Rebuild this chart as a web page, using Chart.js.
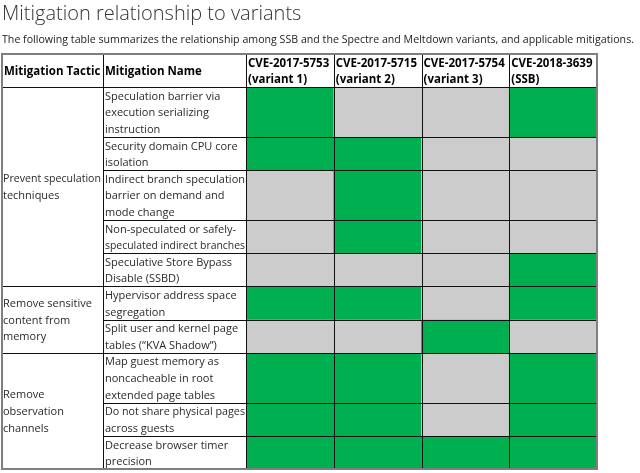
<!DOCTYPE html>
<html>
<head>
<meta charset="utf-8">
<script src="https://cdn.jsdelivr.net/npm/chart.js@4.4.1/dist/chart.umd.min.js"></script>
<style>
  html, body { margin: 0; padding: 0; background: #fff; }
  canvas { display: block; }
</style>
</head>
<body>
<canvas id="table" width="640" height="473"></canvas>
<script>
// header texts
const title = 'Mitigation relationship to variants';
const subtitle = 'The following table summarizes the relationship among SSB and the Spectre and Meltdown variants, and applicable mitigations.';
const headerTactic = 'Mitigation Tactic';
const headerName = 'Mitigation Name';
const variants = [
  ['CVE-2017-5753', '(variant 1)'],
  ['CVE-2017-5715', '(variant 2)'],
  ['CVE-2017-5754', '(variant 3)'],
  ['CVE-2018-3639', '(SSB)']
];

// merged tactic cells and how many rows each one spans
const tactics = [
  ['Prevent speculation', 'techniques'],
  ['Remove sensitive', 'content from', 'memory'],
  ['Remove', 'observation', 'channels']
];
const tacticSpan = [5, 2, 3];

// mitigation names, wrapped as in the original table
const mitigations = [
  ['Speculation barrier via', 'execution serializing', 'instruction'],
  ['Security domain CPU core', 'isolation'],
  ['Indirect branch speculation', 'barrier on demand and', 'mode change'],
  ['Non-speculated or safely-', 'speculated indirect branches'],
  ['Speculative Store Bypass', 'Disable (SSBD)'],
  ['Hypervisor address space', 'segregation'],
  ['Split user and kernel page', 'tables (\u201CKVA Shadow\u201D)'],
  ['Map guest memory as', 'noncacheable in root', 'extended page tables'],
  ['Do not share physical pages', 'across guests'],
  ['Decrease browser timer', 'precision']
];

// 1 = mitigation applies to the variant
const variant1 = [1, 1, 0, 0, 0, 1, 0, 1, 1, 1];
const variant2 = [0, 1, 1, 1, 0, 1, 0, 1, 1, 1];
const variant3 = [0, 0, 0, 0, 0, 0, 1, 0, 0, 1];
const ssb      = [1, 0, 0, 0, 1, 1, 0, 1, 1, 1];

const GREEN = '#00b050';
const GRAY = '#cccccc';
const FONT = '"Open Sans", "Noto Sans", sans-serif';

// row extents measured in text lines
const rowStart = [];
let acc = 0;
mitigations.forEach(m => { rowStart.push(acc); acc += m.length; });
const totalLines = acc;

const columns = [variant1, variant2, variant3, ssb];
const datasets = mitigations.map((m, r) => ({
  label: m.join(' '),
  data: columns.map(() => [rowStart[r], rowStart[r] + m.length]),
  backgroundColor: columns.map(col => col[r] ? GREEN : GRAY),
  borderWidth: 0,
  grouped: false,
  barPercentage: 1,
  categoryPercentage: 1
}));

// layout of the text columns
const tableLeft = 2;
const nameLeft = 103;
const headerTop = 54;

const tablePlugin = {
  id: 'tableText',
  afterDatasetsDraw(chart) {
    const ctx = chart.ctx;
    const area = chart.chartArea;
    const y = chart.scales.y;
    const lineH = Math.abs(y.getPixelForValue(1) - y.getPixelForValue(0));
    const colW = (area.right - area.left) / variants.length;
    ctx.save();

    // title + intro line
    ctx.fillStyle = '#333';
    ctx.textBaseline = 'alphabetic';
    ctx.font = '300 20px ' + FONT;
    ctx.fillText(title, 2, 20);
    ctx.font = '11px ' + FONT;
    ctx.fillStyle = '#222';
    ctx.fillText(subtitle, 2, 43, 632);

    // header row
    ctx.textBaseline = 'middle';
    ctx.fillStyle = '#000';
    ctx.font = 'bold 11.5px ' + FONT;
    const hMid = (headerTop + area.top) / 2 + 1.5;
    ctx.fillText(headerTactic, tableLeft + 2, hMid, nameLeft - tableLeft - 4);
    ctx.fillText(headerName, nameLeft + 2, hMid);
    variants.forEach((v, i) => {
      v.forEach((t, k) => {
        ctx.fillText(t, area.left + i * colW + 2, hMid + (k - (v.length - 1) / 2) * 16, colW - 3);
      });
    });

    // mitigation names
    ctx.fillStyle = '#2a2a2a';
    ctx.font = '11px ' + FONT;
    mitigations.forEach((m, r) => {
      const top = y.getPixelForValue(rowStart[r]);
      m.forEach((t, k) => {
        ctx.fillText(t, nameLeft + 2, top + 1.3 + lineH * (k + 0.5), area.left - nameLeft - 3);
      });
    });

    // tactics, centred over their rows
    let first = 0;
    tactics.forEach((tl, g) => {
      const last = first + tacticSpan[g] - 1;
      const top = y.getPixelForValue(rowStart[first]);
      const bottom = y.getPixelForValue(rowStart[last] + mitigations[last].length);
      const mid = (top + bottom) / 2 + 1;
      tl.forEach((t, k) => {
        ctx.fillText(t, tableLeft + 1, mid + (k - (tl.length - 1) / 2) * lineH, nameLeft - tableLeft - 3);
      });
      first = last + 1;
    });

    // inner grid lines
    ctx.strokeStyle = '#111';
    ctx.lineWidth = 1;
    ctx.beginPath();
    // header bottom
    ctx.moveTo(tableLeft, area.top + 0.5);
    ctx.lineTo(area.right, area.top + 0.5);
    // row lines (name + variant columns)
    mitigations.forEach((m, r) => {
      if (r === 0) return;
      const py = Math.round(y.getPixelForValue(rowStart[r])) + 0.5;
      ctx.moveTo(nameLeft, py);
      ctx.lineTo(area.right, py);
    });
    // tactic group lines
    first = 0;
    tacticSpan.forEach((s, g) => {
      if (g > 0) {
        const py = Math.round(y.getPixelForValue(rowStart[first])) + 0.5;
        ctx.moveTo(tableLeft, py);
        ctx.lineTo(nameLeft, py);
      }
      first += s;
    });
    // column lines
    const xs = [nameLeft, area.left];
    for (let i = 1; i < variants.length; i++) xs.push(Math.round(area.left + i * colW));
    xs.forEach(px => {
      ctx.moveTo(px + 0.5, headerTop);
      ctx.lineTo(px + 0.5, area.bottom);
    });
    ctx.stroke();

    // outer border
    ctx.strokeStyle = '#7f7f7f';
    ctx.lineWidth = 2;
    ctx.strokeRect(tableLeft, headerTop, area.right - tableLeft, area.bottom - headerTop);
    ctx.restore();
  }
};

new Chart(document.getElementById('table'), {
  type: 'bar',
  data: {
    labels: variants.map(v => v.join(' ')),
    datasets: datasets
  },
  options: {
    responsive: false,
    animation: false,
    layout: { padding: { left: 246, right: 43, top: 87, bottom: 4 } },
    plugins: { legend: { display: false }, tooltip: { enabled: false } },
    scales: {
      x: { display: false, offset: true },
      y: { display: false, reverse: true, min: 0, max: totalLines }
    }
  },
  plugins: [tablePlugin]
});
</script>
</body>
</html>
